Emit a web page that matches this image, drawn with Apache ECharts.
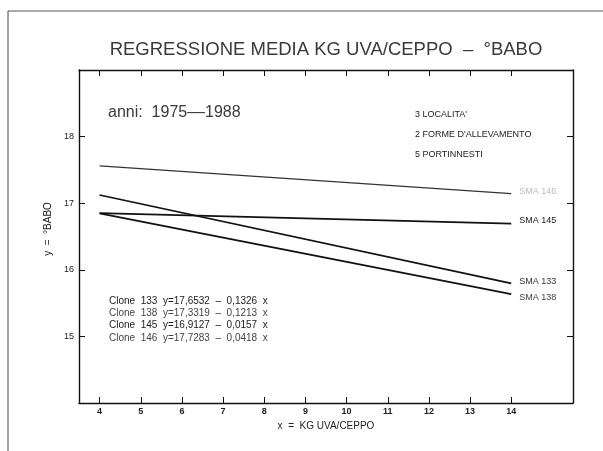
<!DOCTYPE html>
<html>
<head>
<meta charset="utf-8">
<script src="https://cdn.jsdelivr.net/npm/echarts@6/dist/echarts.min.js"></script>
<style>
  html, body { margin: 0; padding: 0; background: #fff; }
  #chart { width: 603px; height: 451px; }
</style>
</head>
<body>
<div id="chart"></div>
<script>
// Regression of must sugar (°Babo) on grape yield per vine, 1975-1988
const clones = ['133', '138', '145', '146'];
const intercepts = [17.6532, 17.3319, 16.9127, 17.7283];
const slopes = [-0.1326, -0.1213, -0.0157, -0.0418];
const xRange = [4, 14];
const xTicks = [4, 5, 6, 7, 8, 9, 10, 11, 12, 13, 14];
const yTicks = [15, 16, 17, 18];
const notes = ["3 LOCALITA'", "2 FORME D'ALLEVAMENTO", "5 PORTINNESTI"];

const FONT = '"Liberation Sans", Arial, sans-serif';
const INK = '#222';

// end-label tweaks so the tags do not collide
const labelOffsets = { '133': [0, -2], '138': [0, 3], '145': [0, -3], '146': [0, -2] };
const labelColors = { '133': '#333', '138': '#444', '145': '#222', '146': '#bbb' };

const fmt = v => v.toFixed(4).replace('.', ',');

const series = clones.map((c, i) => ({
  name: 'SMA ' + c,
  type: 'line',
  symbol: 'none',
  silent: true,
  data: xRange.map(x => [x, intercepts[i] + slopes[i] * x]),
  lineStyle: { color: c === '146' ? '#333' : '#111', width: c === '146' ? 1.4 : 1.7 },
  endLabel: {
    show: true,
    formatter: 'SMA ' + c,
    distance: 8,
    offset: labelOffsets[c],
    color: labelColors[c],
    fontFamily: FONT,
    fontSize: 9
  }
}));

const equationTexts = clones.map((c, i) => ({
  type: 'text',
  left: 109,
  top: 296 + i * 12.3,
  style: {
    text: 'Clone  ' + c + '  y=' + fmt(intercepts[i]) + '  \u2013  ' + fmt(-slopes[i]) + '  x',
    font: '10px ' + FONT,
    fill: i % 2 === 0 ? '#1a1a1a' : '#444'
  }
}));

const noteTexts = notes.map((t, i) => ({
  type: 'text',
  left: 415,
  top: 110 + i * 20,
  style: { text: t, font: '9px ' + FONT, fill: '#222' }
}));

const axisLineStyle = { color: '#111', width: 1.4 };

const option = {
  animation: false,
  backgroundColor: '#fff',
  grid: { left: 79, right: 30, top: 70, bottom: 48, containLabel: false },
  xAxis: [
    {
      type: 'value', position: 'bottom', min: 3.5, max: 15.5,
      axisLine: { show: true, lineStyle: axisLineStyle },
      axisTick: { show: true, inside: true, length: 6, customValues: xTicks, lineStyle: { color: '#111' } },
      axisLabel: { customValues: xTicks, margin: 4, color: INK, fontFamily: FONT, fontSize: 9, fontWeight: 'bold' },
      splitLine: { show: false },
      name: 'x  =  KG UVA/CEPPO', nameLocation: 'middle', nameGap: 18,
      nameTextStyle: { color: INK, fontFamily: FONT, fontSize: 10 }
    },
    {
      type: 'value', position: 'top', min: 3.5, max: 15.5,
      axisLine: { show: true, lineStyle: axisLineStyle },
      axisTick: { show: true, inside: true, length: 6, customValues: xTicks, lineStyle: { color: '#111' } },
      axisLabel: { show: false },
      splitLine: { show: false }
    }
  ],
  yAxis: [
    {
      type: 'value', position: 'left', min: 14, max: 19,
      axisLine: { show: true, lineStyle: axisLineStyle },
      axisTick: { show: true, inside: true, length: 6, customValues: yTicks, lineStyle: { color: '#111' } },
      axisLabel: { customValues: yTicks, margin: 5, color: INK, fontFamily: FONT, fontSize: 9 },
      splitLine: { show: false }
    },
    {
      type: 'value', position: 'right', min: 14, max: 19,
      axisLine: { show: true, lineStyle: axisLineStyle },
      axisTick: { show: true, inside: true, length: 6, customValues: yTicks, lineStyle: { color: '#111' } },
      axisLabel: { show: false },
      splitLine: { show: false }
    }
  ],
  series: series,
  graphic: [
    // page frame
    { type: 'line', shape: { x1: 8, y1: 11, x2: 603, y2: 11 }, style: { stroke: '#555', lineWidth: 1 } },
    { type: 'line', shape: { x1: 8, y1: 11, x2: 8, y2: 451 }, style: { stroke: '#444', lineWidth: 1 } },
    {
      type: 'text', x: 326, y: 50,
      style: {
        text: 'REGRESSIONE MEDIA KG UVA/CEPPO  \u2013  \u00B0BABO',
        font: '18.5px ' + FONT, fill: '#3a3a3a', align: 'center', verticalAlign: 'middle'
      }
    },
    {
      type: 'text', x: 108, y: 113,
      style: {
        text: 'anni:  1975\u2013\u20131988',
        font: '16px ' + FONT, fill: '#3a3a3a', align: 'left', verticalAlign: 'middle'
      }
    },
    {
      type: 'text', x: 48, y: 229, rotation: Math.PI / 2,
      style: { text: 'y  =  \u00B0BABO', font: '10px ' + FONT, fill: INK, align: 'center', verticalAlign: 'middle' }
    }
  ].concat(noteTexts, equationTexts)
};

echarts.init(document.getElementById('chart'), null, { renderer: 'canvas' }).setOption(option);
</script>
</body>
</html>
